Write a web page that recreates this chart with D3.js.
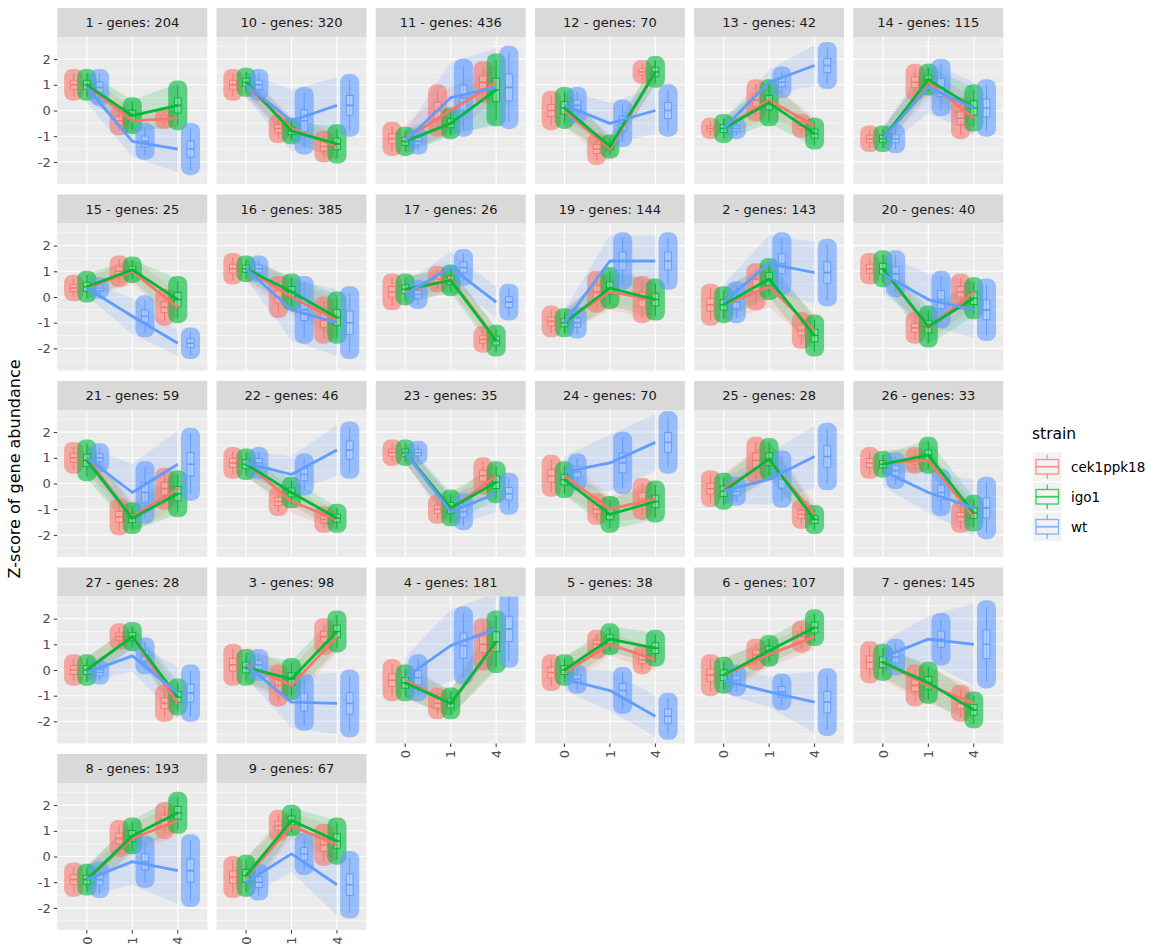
<!DOCTYPE html>
<html lang="en">
<head>
<meta charset="UTF-8" />
<title>clusters</title>
<style>
  body { margin: 0; background: #fff; }
  text { font-family: "DejaVu Sans", sans-serif; }
</style>
</head>
<body>
<svg width="1155" height="951" id="mainsvg"></svg>
<script src="https://cdn.jsdelivr.net/npm/d3@7"></script>
<script>
const svg = d3.select("#mainsvg")

// facet order as in the picture
const clusters = ["1","10","11","12","13","14","15","16","17","19","2","20","21","22","23","24","25","26","27","3","4","5","6","7","8","9"]
const genes = [204,320,436,70,42,115,25,385,26,144,143,40,59,46,35,70,28,33,28,98,181,38,107,145,193,67]
const times = ["0","1","4"]
const strains = ["cek1ppk18","igo1","wt"]
const colors = ["#F8766D","#00BA38","#619CFF"]

// mean z-score per cluster at times 0, 1, 4
const meanCek = [[1.0,-0.4,-0.3],[1.0,-0.7,-1.4],[-1.1,0.0,1.1],[0.0,-1.5,1.5],[-0.7,0.4,-0.6],[-1.1,1.1,-0.3],[0.35,1.0,-0.4],[1.1,0.0,-0.9],[0.2,0.7,-1.65],[-0.95,0.2,-0.1],[-0.3,0.4,-1.3],[1.1,-1.2,0.2],[1.0,-1.3,-0.2],[0.8,-0.7,-1.4],[1.2,-1.0,0.3],[0.3,-1.0,-0.6],[-0.2,0.9,-1.2],[0.8,0.9,-1.3],[0.0,1.3,-1.3],[0.2,-0.6,1.3],[-0.4,-1.3,1.0],[-0.1,1.0,0.4],[-0.2,0.6,1.3],[0.3,-0.6,-1.3],[-0.9,0.7,1.4],[-0.8,1.2,0.45]]
const meanIgo = [[1.0,-0.2,0.2],[1.1,-0.8,-1.3],[-1.2,-0.5,0.8],[0.1,-1.4,1.5],[-0.7,0.3,-0.9],[-1.1,1.2,0.1],[0.4,1.06,-0.1],[1.1,0.2,-0.8],[0.3,0.65,-1.7],[-1.0,0.35,-0.1],[-0.3,0.7,-1.5],[1.1,-1.15,-0.05],[0.9,-1.35,-0.4],[0.75,-0.35,-1.35],[1.2,-0.95,0.05],[0.15,-1.2,-0.7],[-0.3,0.95,-1.4],[0.75,1.1,-1.15],[0.0,1.3,-1.05],[0.1,-0.35,1.5],[-0.5,-1.3,1.1],[0.0,1.2,0.85],[-0.2,0.75,1.65],[0.3,-0.5,-1.55],[-0.9,0.8,1.7],[-0.75,1.4,0.6]]
const meanWt = [[0.9,-1.2,-1.5],[1.0,-0.4,0.2],[-1.2,0.5,0.9],[0.2,-0.5,0.0],[-0.7,1.1,1.75],[-1.1,0.9,0.1],[0.35,-0.75,-1.8],[1.1,-0.5,-1.0],[0.1,1.15,-0.2],[-1.0,1.4,1.4],[-0.2,1.3,0.95],[0.9,-0.1,-0.5],[1.0,-0.35,0.75],[0.8,0.35,1.3],[1.2,-1.1,-0.4],[0.45,0.8,1.6],[-0.3,0.17,1.05],[0.5,-0.35,-0.95],[-0.1,0.55,-0.9],[0.2,-1.25,-1.3],[-0.3,0.95,1.6],[-0.35,-0.8,-1.8],[-0.4,-0.85,-1.25],[0.5,1.2,1.0],[-0.9,-0.2,-0.55],[-1.0,0.1,-1.1]]

// half-range of the gene cloud per cluster at times 0, 1, 4
const spreadCek = [[0.5,0.45,0.3],[0.5,0.45,0.5],[0.55,0.9,0.7],[0.65,0.5,0.35],[0.3,0.7,0.35],[0.4,0.6,0.7],[0.4,0.5,0.6],[0.5,0.7,0.8],[0.6,0.4,0.4],[0.5,0.7,0.8],[0.7,0.8,0.6],[0.5,0.5,0.6],[0.5,0.6,0.7],[0.5,0.45,0.4],[0.4,0.45,0.6],[0.7,0.5,0.7],[0.6,0.8,0.45],[0.5,0.4,0.5],[0.5,0.4,0.6],[0.7,0.7,0.6],[0.7,0.5,0.9],[0.6,0.45,0.45],[0.7,0.5,0.5],[0.7,0.7,0.6],[0.55,0.6,0.6],[0.7,0.5,0.7]]
const spreadIgo = [[0.5,0.6,0.85],[0.45,0.4,0.65],[0.45,0.5,1.3],[0.7,0.35,0.5],[0.45,0.8,0.5],[0.4,0.5,0.8],[0.5,0.4,0.8],[0.4,0.6,0.9],[0.5,0.5,0.5],[0.45,0.7,0.7],[0.6,0.7,0.7],[0.6,0.7,0.7],[0.7,0.5,0.8],[0.5,0.5,0.45],[0.4,0.6,0.7],[0.6,0.6,0.7],[0.6,0.7,0.45],[0.4,0.6,0.6],[0.5,0.45,0.6],[0.6,0.7,0.7],[0.6,0.5,1.1],[0.5,0.5,0.6],[0.6,0.5,0.6],[0.6,0.7,0.6],[0.5,0.6,0.7],[0.7,0.5,0.8]]
const spreadWt = [[0.6,0.6,0.9],[0.5,1.2,1.1],[0.4,1.4,1.5],[0.6,0.8,0.9],[0.3,0.5,0.8],[0.45,1.0,1.0],[0.3,0.7,0.5],[0.4,1.2,1.3],[0.45,0.6,0.6],[0.5,1.0,1.0],[0.7,1.1,1.2],[0.8,1.0,1.1],[0.45,1.1,1.3],[0.5,0.7,1.0],[0.35,0.6,0.7],[0.6,1.1,1.1],[0.45,1.0,1.2],[0.6,0.8,1.1],[0.35,0.6,1.0],[0.5,1.0,1.2],[0.8,1.4,1.4],[0.45,0.8,0.8],[0.5,0.6,1.2],[0.6,0.9,1.6],[0.6,0.9,1.3],[0.6,0.7,1.2]]

const yTicks = [-2,-1,0,1,2]
const yMinor = [-2.5,-1.5,-0.5,0.5,1.5,2.5]

const means = [meanCek, meanIgo, meanWt]
const spreads = [spreadCek, spreadIgo, spreadWt]

// layout
const ncol = 6
const pw = 150, ph = 147, stripH = 29
const colX = (c) => 57.3 + c * 159.2
const rowBottom = (r) => 184 + r * 186.5

const x = d3.scaleLinear().domain([-0.65, 2.65]).range([0, pw])
const y = d3.scaleLinear().domain([-2.86, 2.86]).range([ph, 0])
const dodge = [-0.29, 0, 0.28]
const jw = 0.21, bw = 0.075

const defs = svg.append("defs")
defs.append("clipPath").attr("id", "pclip")
  .append("rect").attr("width", pw).attr("height", ph)

const nPanels = clusters.length
const lastRow = Math.floor((nPanels - 1) / ncol)

clusters.forEach((cl, k) => {
  const r = Math.floor(k / ncol), c = k % ncol
  const top = rowBottom(r) - ph
  const g = svg.append("g").attr("transform", `translate(${colX(c)},${top})`)

  // strip
  g.append("rect").attr("x", 0).attr("y", -stripH).attr("width", pw).attr("height", stripH).attr("fill", "#D9D9D9")
  g.append("text").attr("x", pw / 2).attr("y", -stripH / 2).attr("dy", "0.36em")
    .attr("text-anchor", "middle").attr("font-size", 13).attr("fill", "#1A1A1A")
    .text(`${cl} - genes: ${genes[k]}`)

  // background + grid
  g.append("rect").attr("width", pw).attr("height", ph).attr("fill", "#EBEBEB")
  g.selectAll(".ymin").data(yMinor).join("line")
    .attr("x1", 0).attr("x2", pw).attr("y1", d => y(d)).attr("y2", d => y(d))
    .attr("stroke", "#fff").attr("stroke-width", 0.55)
  g.selectAll(".ymaj").data(yTicks).join("line").attr("class", "ymaj")
    .attr("x1", 0).attr("x2", pw).attr("y1", d => y(d)).attr("y2", d => y(d))
    .attr("stroke", "#fff").attr("stroke-width", 1.1)
  g.selectAll(".xmaj").data(times).join("line").attr("class", "xmaj")
    .attr("x1", (d, i) => x(i)).attr("x2", (d, i) => x(i)).attr("y1", 0).attr("y2", ph)
    .attr("stroke", "#fff").attr("stroke-width", 1.1)

  const plot = g.append("g").attr("clip-path", "url(#pclip)")

  // gene line fans between time points
  strains.forEach((s, si) => {
    const m = means[si][k], sp = spreads[si][k]
    for (let t = 0; t < 2; t++) {
      const pts = [[x(t), y(m[t] + sp[t])], [x(t + 1), y(m[t + 1] + sp[t + 1])],
                   [x(t + 1), y(m[t + 1] - sp[t + 1])], [x(t), y(m[t] - sp[t])]]
      plot.append("path").attr("d", d3.line()(pts) + "Z")
        .attr("fill", colors[si]).attr("fill-opacity", 0.17)
    }
  })

  // jittered point clouds
  strains.forEach((s, si) => {
    const m = means[si][k], sp = spreads[si][k]
    times.forEach((t, ti) => {
      const cx = ti + dodge[si]
      const w = x(cx + jw) - x(cx - jw)
      plot.append("rect")
        .attr("x", x(cx - jw)).attr("width", w)
        .attr("y", y(m[ti] + sp[ti]) - 3).attr("height", y(m[ti] - sp[ti]) - y(m[ti] + sp[ti]) + 6)
        .attr("rx", w / 2.4).attr("fill", colors[si]).attr("fill-opacity", 0.6)
    })
  })

  // boxplots
  strains.forEach((s, si) => {
    const m = means[si][k], sp = spreads[si][k]
    times.forEach((t, ti) => {
      const cx = ti + dodge[si]
      const bx = plot.append("g").attr("stroke", colors[si]).attr("fill", "none").attr("stroke-width", 1)
      bx.append("line").attr("x1", x(cx)).attr("x2", x(cx))
        .attr("y1", y(m[ti] + 0.9 * sp[ti])).attr("y2", y(m[ti] - 0.9 * sp[ti]))
      bx.append("rect").attr("x", x(cx - bw)).attr("width", x(cx + bw) - x(cx - bw))
        .attr("y", y(m[ti] + 0.35 * sp[ti])).attr("height", y(m[ti] - 0.35 * sp[ti]) - y(m[ti] + 0.35 * sp[ti]))
        .attr("fill", "#fff").attr("fill-opacity", 0.25)
      bx.append("line").attr("x1", x(cx - bw)).attr("x2", x(cx + bw))
        .attr("y1", y(m[ti])).attr("y2", y(m[ti])).attr("stroke-width", 1.6)
    })
  })

  // mean lines
  strains.forEach((s, si) => {
    plot.append("path").datum(means[si][k])
      .attr("d", d3.line().x((d, i) => x(i)).y(d => y(d)))
      .attr("fill", "none").attr("stroke", colors[si]).attr("stroke-width", 2.8)
      .attr("stroke-linejoin", "round")
  })

  // y axis on first column
  if (c === 0) {
    const ya = g.append("g").call(d3.axisLeft(y).tickValues(yTicks).tickFormat(d => String(d)).tickSize(3.5).tickPadding(3))
    ya.select(".domain").remove()
    ya.selectAll("line").attr("stroke", "#333")
    ya.selectAll("text").attr("font-size", 13).attr("fill", "#4D4D4D").attr("font-family", "DejaVu Sans, sans-serif")
  }
  // x axis under the lowest panel of each column
  const isBottom = (k + ncol >= nPanels)
  if (isBottom) {
    const xa = g.append("g").attr("transform", `translate(0,${ph})`)
    xa.selectAll("line").data(times).join("line")
      .attr("x1", (d, i) => x(i)).attr("x2", (d, i) => x(i)).attr("y1", 0).attr("y2", 3.5)
      .attr("stroke", "#333")
    xa.selectAll("text").data(times).join("text")
      .attr("transform", (d, i) => `translate(${x(i)},${6.5}) rotate(-90)`)
      .attr("text-anchor", "end").attr("dy", "0.36em")
      .attr("font-size", 13).attr("fill", "#4D4D4D").text(d => d)
  }
})

// y axis title
svg.append("text")
  .attr("transform", `translate(20,${(rowBottom(0) - ph - stripH + rowBottom(lastRow)) / 2}) rotate(-90)`)
  .attr("text-anchor", "middle").attr("font-size", 16).attr("fill", "#000")
  .text("Z-score of gene abundance")

// legend
const lg = svg.append("g").attr("transform", "translate(1032,424)")
lg.append("text").attr("x", 0).attr("y", 15).attr("font-size", 15.5).attr("fill", "#000").text("strain")
strains.forEach((s, i) => {
  const ky = 28.5 + i * 30
  const kg = lg.append("g").attr("transform", `translate(1,${ky})`)
  kg.append("rect").attr("width", 28.5).attr("height", 28.5).attr("fill", "#F2F2F2")
  const gl = kg.append("g").attr("stroke", colors[i]).attr("stroke-opacity", 0.75).attr("fill", "none").attr("stroke-width", 1.3)
  gl.append("line").attr("x1", 14.25).attr("x2", 14.25).attr("y1", 2).attr("y2", 7)
  gl.append("line").attr("x1", 14.25).attr("x2", 14.25).attr("y1", 21.5).attr("y2", 26.5)
  gl.append("rect").attr("x", 3).attr("y", 7).attr("width", 22.5).attr("height", 14.5)
  gl.append("line").attr("x1", 3).attr("x2", 25.5).attr("y1", 14.25).attr("y2", 14.25).attr("stroke-width", 1.8)
  lg.append("text").attr("x", 39).attr("y", ky + 14.25).attr("dy", "0.36em")
    .attr("font-size", 13.5).attr("fill", "#000").text(s)
})
</script>
</body>
</html>
